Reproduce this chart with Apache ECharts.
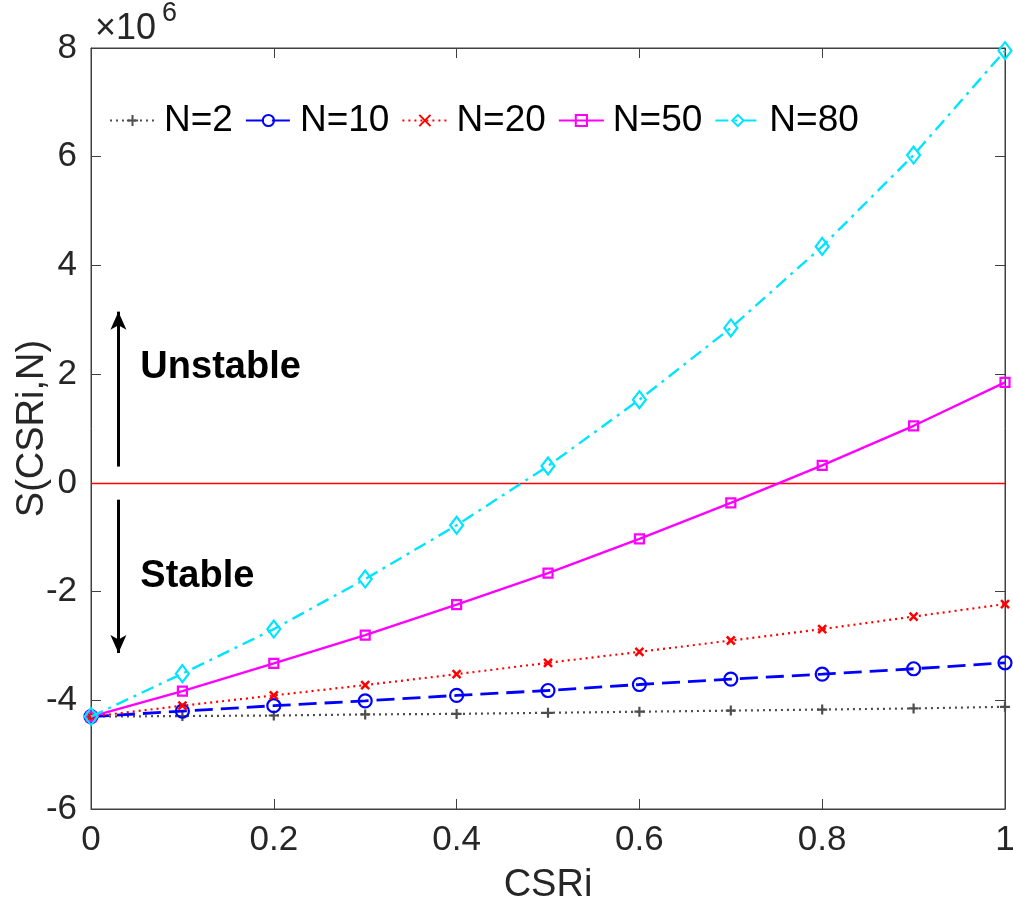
<!DOCTYPE html>
<html>
<head>
<meta charset="utf-8">
<script src="https://cdn.jsdelivr.net/npm/echarts@6/dist/echarts.min.js"></script>
<style>
html,body{margin:0;padding:0;background:#fff;}
#chart{width:1013px;height:915px;}
</style>
</head>
<body>
<div id="chart"></div>
<script>
// CSRi values (x)
const csri = [0, 0.1, 0.2, 0.3, 0.4, 0.5, 0.6, 0.7, 0.8, 0.9, 1.0];
// S(CSRi,N) in units of 10^6
const sN2  = [-4.30, -4.29, -4.28, -4.26, -4.25, -4.23, -4.21, -4.19, -4.17, -4.15, -4.12];
const sN10 = [-4.30, -4.20, -4.10, -4.01, -3.91, -3.82, -3.71, -3.61, -3.52, -3.42, -3.31];
const sN20 = [-4.30, -4.10, -3.91, -3.72, -3.52, -3.31, -3.11, -2.90, -2.69, -2.46, -2.23];
const sN50 = [-4.30, -3.83, -3.32, -2.80, -2.24, -1.66, -1.03, -0.37, 0.32, 1.05, 1.85];
const sN80 = [-4.30, -3.51, -2.69, -1.77, -0.78, 0.31, 1.53, 2.85, 4.35, 6.03, 7.95];
const seriesNames = ['N=2', 'N=10', 'N=20', 'N=50', 'N=80'];
const xTicks = [0, 0.2, 0.4, 0.6, 0.8, 1];
const yTicks = [-6, -4, -2, 0, 2, 4, 6, 8];
const multiplierText = '×10';
const multiplierExp = '6';
// annotation arrows (data coords) and texts
const arrowUp = [[0.03, 0.30], [0.03, 3.15]];
const arrowDown = [[0.03, -0.31], [0.03, -3.13]];
const unstableText = {label: 'Unstable', at: [0.054, 2.12]};
const stableText = {label: 'Stable', at: [0.054, -1.73]};

const FONT = '"Liberation Sans", Arial, Helvetica, sans-serif';
const TXT = '#262626';

function pairs(ys){ return csri.map((x,i)=>[x, ys[i]]); }

const plusPath = 'path://M5,0 L5,10 M0,5 L10,5';
const xPath = 'path://M0,0 L10,10 M10,0 L0,10';

const chart = echarts.init(document.getElementById('chart'), null, {renderer:'canvas'});

const axisLineStyle = {color:'#404040', width:1};

const option = {
  backgroundColor:'#fff',
  animation:false,
  textStyle:{fontFamily:FONT},
  grid:{left:91, right:8, top:48, bottom:106, containLabel:false, outerBoundsMode:'none',
        show:true, borderColor:'#404040', borderWidth:1, backgroundColor:'transparent'},
  legend:{
    left:104, top:97,
    itemWidth:45, itemHeight:14, itemGap:12,
    textStyle:{fontSize:37, color:'#000', fontFamily:FONT, padding:[0,0,0,4]},
    data:seriesNames
  },
  xAxis:[{
    type:'value', min:0, max:1, interval:0.2,
    name:'CSRi', nameLocation:'middle', nameGap:58, nameMoveOverlap:false,
    nameTextStyle:{fontSize:38, color:TXT, fontFamily:FONT},
    axisLine:{show:true, onZero:false, lineStyle:axisLineStyle},
    axisTick:{show:true, inside:true, length:10, lineStyle:axisLineStyle},
    axisLabel:{fontSize:35, color:TXT, margin:14, fontFamily:FONT,
      formatter:v=>{ const t = xTicks.find(k=>Math.abs(k-v)<1e-9); return t===undefined? '' : String(t); }},
    splitLine:{show:false}
  },{
    type:'value', min:0, max:1, interval:0.2, position:'top',
    axisLine:{show:true, onZero:false, lineStyle:axisLineStyle},
    axisTick:{show:true, inside:true, length:10, lineStyle:axisLineStyle},
    axisLabel:{show:false}, splitLine:{show:false}
  }],
  yAxis:[{
    type:'value', min:-6, max:8, interval:2,
    name:'S(CSRi,N)', nameLocation:'middle', nameGap:39, nameRotate:90, nameMoveOverlap:false,
    nameTextStyle:{fontSize:38, color:TXT, fontFamily:FONT},
    axisLine:{show:true, onZero:false, lineStyle:axisLineStyle},
    axisTick:{show:true, inside:true, length:10, lineStyle:axisLineStyle},
    axisLabel:{fontSize:35, color:TXT, margin:14, fontFamily:FONT,
      formatter:v=>{ const t = yTicks.find(k=>Math.abs(k-v)<1e-9); return t===undefined? '' : String(t); }},
    splitLine:{show:false}
  },{
    type:'value', min:-6, max:8, interval:2, position:'right',
    axisLine:{show:true, onZero:false, lineStyle:axisLineStyle},
    axisTick:{show:true, inside:true, length:10, lineStyle:axisLineStyle},
    axisLabel:{show:false}, splitLine:{show:false}
  }],
  graphic:[
    {type:'text', left:95, top:11, style:{text:multiplierText, font:'36px '+FONT, fill:TXT}},
    {type:'text', left:162, top:0, style:{text:multiplierExp, font:'27px '+FONT, fill:TXT}}
  ],
  series:[
    {
      name:'N=2', type:'line', data:pairs(sN2), clip:false,
      symbol:plusPath, symbolSize:10, showSymbol:true,
      lineStyle:{color:'#4d4d4d', width:2.2, type:[2,4]},
      itemStyle:{color:'transparent', borderColor:'#4d4d4d', borderWidth:2.2},
      markLine:{
        silent:true, symbol:['none','none'], animation:false,
        lineStyle:{color:'#ff0000', width:1.3, type:'solid'},
        label:{show:false},
        data:[{yAxis:0}]
      },
      z:2
    },
    {
      name:'N=10', type:'line', data:pairs(sN10), clip:false,
      symbol:'circle', symbolSize:13,
      lineStyle:{color:'#0000ff', width:2.8, type:[18,8]},
      itemStyle:{color:'transparent', borderColor:'#0000ff', borderWidth:2.2},
      z:3
    },
    {
      name:'N=20', type:'line', data:pairs(sN20), clip:false,
      symbol:xPath, symbolSize:8,
      lineStyle:{color:'#ff0000', width:2.2, type:[2,4]},
      itemStyle:{color:'transparent', borderColor:'#ff0000', borderWidth:2.5},
      z:4
    },
    {
      name:'N=50', type:'line', data:pairs(sN50), clip:false,
      symbol:'rect', symbolSize:9,
      lineStyle:{color:'#ff00ff', width:2.4, type:'solid'},
      itemStyle:{color:'transparent', borderColor:'#ff00ff', borderWidth:2.2},
      z:5
    },
    {
      name:'N=80', type:'line', data:pairs(sN80), clip:false,
      symbol:'diamond', symbolSize:[13,17],
      lineStyle:{color:'#00e5ff', width:2.4, type:[13,6,3,6]},
      itemStyle:{color:'transparent', borderColor:'#00e5ff', borderWidth:2.2},
      z:6,
      markLine:{
        silent:true, animation:false,
        symbol:['none','arrow'], symbolSize:[12,18],
        lineStyle:{color:'#000', width:3, type:'solid'},
        label:{show:false},
        data:[
          [{coord:arrowUp[0]},{coord:arrowUp[1]}],
          [{coord:arrowDown[0]},{coord:arrowDown[1]}]
        ]
      },
      markPoint:{
        silent:true, animation:false,
        symbol:'circle', symbolSize:0,
        label:{show:true, position:'right', distance:0, color:'#000', fontSize:38, fontWeight:'bold', fontFamily:FONT},
        data:[
          {coord:unstableText.at, value:unstableText.label, label:{formatter:unstableText.label}},
          {coord:stableText.at, value:stableText.label, label:{formatter:stableText.label}}
        ]
      }
    }
  ]
};
chart.setOption(option);
</script>
</body>
</html>
